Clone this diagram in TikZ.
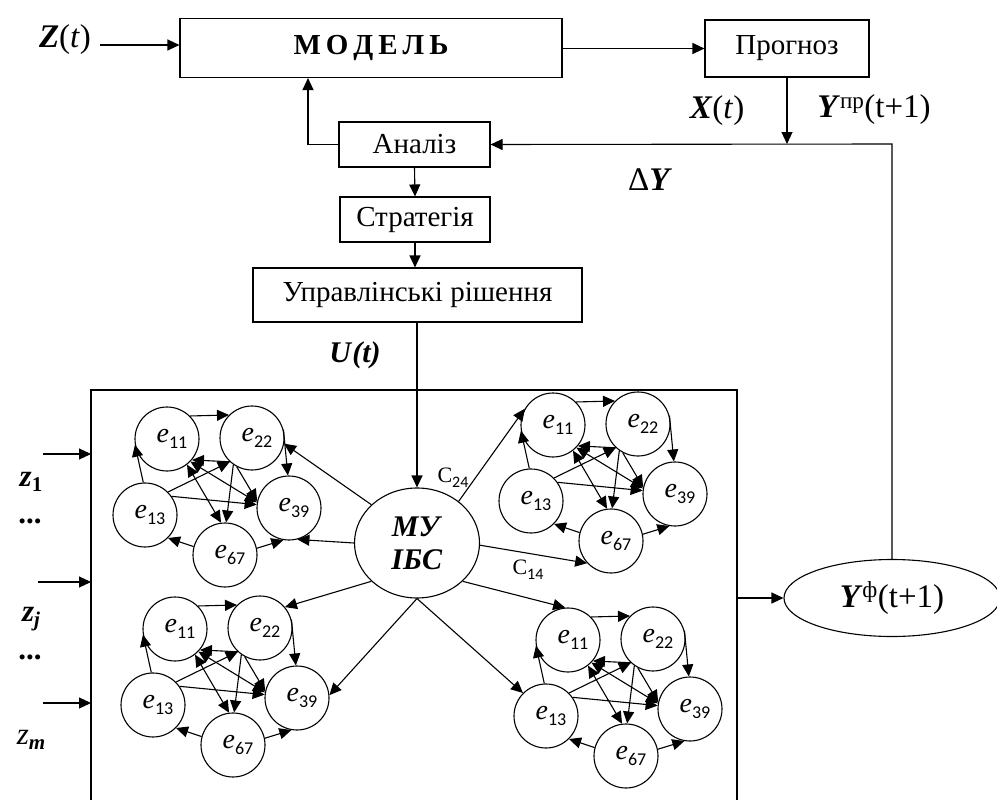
\documentclass[tikz,border=0pt]{standalone}
\usepackage{fontspec}
\setmainfont{Liberation Serif}
\newfontfamily\subfont{Carlito}
\usetikzlibrary{arrows.meta,shapes.geometric}
\newcommand\elab[1]{\hspace*{10pt}\textit{e}\raisebox{-6pt}{\fontsize{18}{18}\selectfont\subfont #1}}
\newcommand\clab[1]{C\raisebox{-5pt}{\fontsize{16}{16}\selectfont\subfont #1}}
\newcommand\mycluster[3]{%
\begin{scope}[shift={(#2,#3)}]
\node[en] (#1a) at (0,0) {\elab{11}};
\node[en] (#1b) at (85,-1) {\elab{22}};
\node[en] (#1c) at (-22,76) {\elab{13}};
\node[en] (#1d) at (122,69) {\elab{39}};
\node[en] (#1e) at (58,116) {\elab{67}};
\end{scope}
\draw[arr] (#1a.45) -- (#1b.135);
\draw[arr] (#1c.93) -- (#1a.190);
\draw[arr] (#1b.15) -- (#1d.92);
\draw[arr] (#1e.165) -- (#1c.-45);
\draw[arr] (#1e.12) -- (#1d.-100);
\draw[arr] (#1c.45) -- (#1b.-133);
\draw[arr] (#1c.35) -- (#1d.174);
\draw[arr] (#1b.-133) -- (#1a.-40);
\draw[arr] (#1b.-125) -- (#1e.88);
\draw[arr] (#1b.-118) -- (#1d.168);
\draw[dbl] (#1a.-44) -- (#1d.170);
\draw[dbl] (#1a.-52) -- (#1e.97);
}
\begin{document}
\begin{tikzpicture}[x=1pt,y=-1pt,line width=1.1pt,
  arr/.style={-{Triangle[length=12pt,width=11pt]}},
  dbl/.style={{Triangle[length=12pt,width=11pt]}-{Triangle[length=12pt,width=11pt]}},
  box/.style={draw,rectangle,inner sep=0pt,font=\fontsize{29}{32}\selectfont},
  en/.style={draw,circle,minimum size=64pt,inner sep=0pt,font=\fontsize{28}{30}\selectfont},
  lab/.style={inner sep=0pt,font=\fontsize{33}{36}\selectfont},
  zlab/.style={inner sep=0pt,font=\fontsize{31}{33}\selectfont},
  slab/.style={inner sep=0pt,font=\fontsize{22}{24}\selectfont}]
\useasboundingbox (0,0) rectangle (997,800);

% top blocks
\node[box,minimum width=382pt,minimum height=59pt] (model) at (371,48)
  {\textbf{М\hspace{5pt}О\hspace{5pt}Д\hspace{5pt}Е\hspace{5pt}Л\hspace{5pt}Ь}};
\node[box,minimum width=164pt,minimum height=57pt] (prog) at (787,48.5) {Прогноз};
\node[box,minimum width=151pt,minimum height=45pt] (an) at (414.5,144.5) {Аналіз};
\node[box,minimum width=150pt,minimum height=45pt] (str) at (415,219.5) {Стратегія};
\node[box,minimum width=329pt,minimum height=54pt] (ur) at (417.5,295) {Управлінські рішення};

\node[lab] (zt) at (65,40) {\textbf{\textit{Z}}(\textit{t})};
\node[lab] (xt) at (717,111) {\textbf{\textit{X}}(\textit{t})};
\node[lab] (ypr) at (874,110) {\textbf{\textit{Y}}\textsuperscript{пр}(t+1)};
\node[lab] (dy) at (650,180) {Δ\textbf{\textit{Y}}};
\node[lab,font=\fontsize{30}{32}\selectfont] (ut) at (355,355) {\textbf{\textit{U}}\textbf{\textit{(t)}}};

\coordinate (zs) at (100,45);
\draw[arr] (zs) -- (model.west |- zs);
\draw[arr] (model.east |- prog.west) -- (prog.west);
\coordinate (fbj) at (787,144);
\draw[arr] (prog.south) -- (fbj);
\coordinate (anl) at (308,144.5);
\draw[arr] (an.west) -- (anl) -- (model.south -| anl);
\draw[arr] (an.south) -- (str.north);
\draw[arr] (str.south) -- (ur.north -| str.south);

% big box
\draw (91,805) -- (91,390) -- (737,390) -- (737,805);

% central node
\node[draw,ellipse,minimum width=125pt,minimum height=110pt,inner sep=0pt,
  align=center,font=\fontsize{30}{33}\selectfont] (mu) at (417,543)
  {\textbf{\textit{МУ}}\\\textbf{\textit{ІБС}}};
\draw[arr] (ur.south -| mu.north) -- (mu.north);

% output ellipse
\node[draw,ellipse,minimum width=216pt,minimum height=77pt,inner sep=0pt,
  font=\fontsize{33}{35}\selectfont] (yf) at (892,598)
  {\textbf{\textit{Y}}\textsuperscript{ф}(t+1)};
\coordinate (bxr) at (737,598);
\draw[arr] (bxr) -- (yf.west);
\coordinate (fbc) at (892,144);
\draw[arr] (yf.north) -- (fbc) -- (an.east);

% inputs
\coordinate (i1s) at (43,454); \coordinate (i1) at (91,454);
\coordinate (i2s) at (38,582); \coordinate (i2) at (91,582);
\coordinate (i3s) at (43,703); \coordinate (i3) at (91,703);
\draw[arr] (i1s) -- (i1);
\draw[arr] (i2s) -- (i2);
\draw[arr] (i3s) -- (i3);
\node[zlab] (z1) at (31,482) {\textbf{\textit{z}}\raisebox{-5pt}{\fontsize{21}{21}\selectfont\textbf{1}}};
\node[zlab] (d1) at (30,521) {\textbf{...}};
\node[zlab] (zj) at (31,619) {\textbf{\textit{z}}\raisebox{-5pt}{\fontsize{21}{21}\selectfont\textbf{\textit{j}}}};
\node[zlab] (d2) at (30,657) {\textbf{...}};
\node[zlab] (zm) at (31,740) {\textit{z}\raisebox{-5pt}{\fontsize{21}{21}\selectfont\textbf{\textit{m}}}};

% clusters
\mycluster{TL}{167}{439}
\mycluster{TR}{553}{425}
\mycluster{BL}{175}{629}
\mycluster{BR}{568}{640}

% hub connections
\draw[arr] (mu.140) -- (TLb.-10);
\draw[arr] (mu.180) -- (TLd.-75);
\draw[arr] (mu.-140) -- (BLb.40);
\draw[arr] (mu.south) -- (BLd.5);
\draw[arr] (mu.45) -- (TRa.150);
\draw[arr] (mu.-2) -- (TRe.-137);
\draw[arr] (mu.-40) -- (BRa.95);
\draw[arr] (mu.south) -- (BRc.135);

\node[slab] (c24) at (453,478) {\clab{24}};
\node[slab] (c14) at (528,570) {\clab{14}};
\end{tikzpicture}
\end{document}
